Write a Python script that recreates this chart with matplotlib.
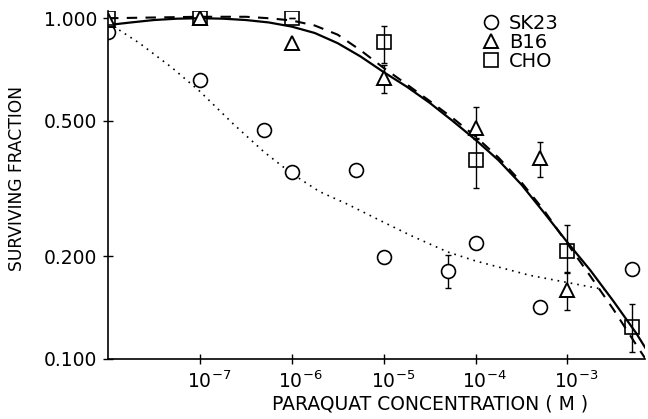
import numpy as np
import matplotlib
matplotlib.use('Agg')
import matplotlib.pyplot as plt
from matplotlib.transforms import ScaledTranslation

matplotlib.rcParams['font.family'] = 'DejaVu Sans'
matplotlib.rcParams['mathtext.fontset'] = 'dejavusans'

# measured points (paraquat concentration in M, surviving fraction)
sk23_x = [1e-8, 1e-7, 5e-7, 1e-6, 5e-6, 1e-5, 5e-5, 1e-4, 5e-4, 5e-3]
sk23_y = [0.91, 0.66, 0.47, 0.353, 0.358, 0.199, 0.181, 0.219, 0.142, 0.184]
sk23_lo = [0, 0, 0, 0, 0, 0, 0.019, 0, 0, 0]
sk23_hi = [0, 0, 0, 0, 0, 0, 0.021, 0, 0, 0]

b16_x = [1e-8, 1e-7, 1e-6, 1e-5, 1e-4, 5e-4, 1e-3]
b16_y = [0.985, 1.0, 0.845, 0.667, 0.476, 0.389, 0.159]
b16_lo = [0, 0, 0, 0.064, 0.03, 0.047, 0.02]
b16_hi = [0, 0, 0, 0.06, 0.072, 0.044, 0.021]

cho_x = [1e-8, 1e-7, 1e-6, 1e-5, 1e-4, 1e-3, 5e-3]
cho_y = [1.0, 1.0, 1.0, 0.85, 0.383, 0.208, 0.124]
cho_lo = [0, 0, 0, 0.11, 0.066, 0.029, 0.019]
cho_hi = [0, 0, 0, 0.10, 0.06, 0.039, 0.021]

# fitted curves
solid_x = [1e-8, 1.78e-8, 3.16e-8, 5.62e-8, 1e-7, 1.78e-7, 3.16e-7, 5.62e-7,
           1e-6, 1.78e-6, 3.16e-6, 5.62e-6, 1e-5, 1.78e-5, 3.16e-5, 5.62e-5,
           1e-4, 1.78e-4, 3.16e-4, 5.62e-4, 1e-3, 1.78e-3, 3.16e-3, 5.62e-3, 7.5e-3]
solid_y = [0.955, 0.972, 0.988, 0.997, 1.0, 0.997, 0.988, 0.972,
           0.945, 0.905, 0.845, 0.772, 0.695, 0.63, 0.565, 0.5,
           0.44, 0.383, 0.325, 0.268, 0.22, 0.182, 0.148, 0.119, 0.105]

dash_x = [1e-8, 3.16e-8, 1e-7, 3.16e-7, 5.62e-7, 1e-6, 1.78e-6, 3.16e-6, 5.62e-6,
          1e-5, 1.78e-5, 3.16e-5, 5.62e-5, 1e-4, 1.78e-4, 3.16e-4, 5.62e-4,
          1e-3, 1.78e-3, 3.16e-3, 5.62e-3, 7.1e-3]
dash_y = [1.0, 1.005, 1.01, 1.01, 1.0, 0.985, 0.952, 0.895, 0.805,
          0.715, 0.64, 0.572, 0.51, 0.45, 0.39, 0.33, 0.272,
          0.218, 0.175, 0.14, 0.11, 0.1]

dot_x = [1e-8, 2.2e-8, 5e-8, 1e-7, 2.3e-7, 5e-7, 1e-6, 2e-6, 4e-6, 1e-5,
         2e-5, 5e-5, 1e-4, 3.9e-4, 1.37e-3, 2.5e-3]
dot_y = [0.97, 0.845, 0.715, 0.61, 0.49, 0.405, 0.35, 0.31, 0.285, 0.252,
         0.23, 0.206, 0.194, 0.176, 0.165, 0.16]

xticks = [1e-7, 1e-6, 1e-5, 1e-4, 1e-3]
xlabels = [r'$10^{-7}$', r'$10^{-6}$', r'$10^{-5}$', r'$10^{-4}$', r'$10^{-3}$']
yticks = [0.1, 0.2, 0.5, 1.0]
ylabels = ['0.100', '0.200', '0.500', '1.000']

fig = plt.figure(figsize=(6.48, 4.19), dpi=100)
ax = fig.add_axes([0.1667, 0.1432, 0.8287, 0.8305])

ax.plot(solid_x, solid_y, '-', color='black', linewidth=1.6)
ax.plot(dash_x, dash_y, color='black', linewidth=1.5, dashes=(5, 4))
ax.plot(dot_x, dot_y, color='black', linewidth=1.2, linestyle=(0, (1, 3)))

ax.errorbar(sk23_x, sk23_y, yerr=[sk23_lo, sk23_hi], fmt='none', ecolor='black',
            elinewidth=1.0, capsize=2.5)
ax.errorbar(b16_x, b16_y, yerr=[b16_lo, b16_hi], fmt='none', ecolor='black',
            elinewidth=1.0, capsize=2.5)
ax.errorbar(cho_x, cho_y, yerr=[cho_lo, cho_hi], fmt='none', ecolor='black',
            elinewidth=1.0, capsize=2.5)

ax.plot(sk23_x, sk23_y, 'o', markersize=10, markerfacecolor='white',
        markeredgecolor='black', markeredgewidth=1.2, label='SK23', linestyle='none')
ax.plot(b16_x, b16_y, '^', markersize=10, markerfacecolor='white',
        markeredgecolor='black', markeredgewidth=1.4, label='B16', linestyle='none')
ax.plot(cho_x, cho_y, 's', markersize=10, markerfacecolor='none',
        markeredgecolor='black', markeredgewidth=1.2, label='CHO', linestyle='none')

ax.set_xscale('log')
ax.set_yscale('log')
ax.set_xlim(1e-8, 7e-3)
ax.set_ylim(0.1, 1.05)

ax.set_xticks(xticks)
ax.set_xticklabels(xlabels)
ax.set_yticks(yticks)
ax.set_yticklabels(ylabels)
ax.minorticks_off()
ax.tick_params(direction='inout', length=7, width=1.0, labelsize=13.5)
ax.tick_params(axis='x', pad=5)
ax.tick_params(axis='y', pad=4)
# base "10" sits over the tick, exponent hangs to the right
shift = ScaledTranslation(0.09, 0, fig.dpi_scale_trans)
for lbl in ax.get_xticklabels():
    lbl.set_transform(lbl.get_transform() + shift)

ax.spines['top'].set_visible(False)
ax.spines['right'].set_visible(False)
ax.spines['left'].set_linewidth(1.2)
ax.spines['bottom'].set_linewidth(1.2)

ax.set_xlabel('PARAQUAT CONCENTRATION ( M )', fontsize=13.5)
ax.xaxis.set_label_coords(0.6, -0.102)
ax.set_ylabel('SURVIVING FRACTION', fontsize=12.3)
ax.yaxis.set_label_coords(-0.153, 0.52)

ax.legend(loc='upper right', bbox_to_anchor=(0.865, 1.03), frameon=False, fontsize=14,
          handletextpad=0.45, labelspacing=0.0, handlelength=1.0, borderpad=0.2)

plt.savefig('out.png', dpi=100)
